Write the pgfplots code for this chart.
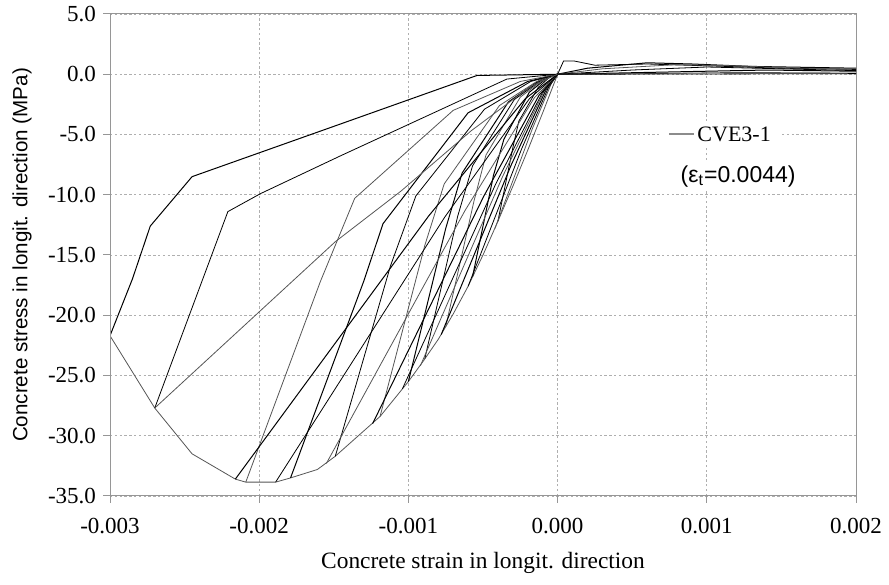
\documentclass[border=0pt]{standalone}
\usepackage{fontspec}
\setmainfont{Liberation Serif}
\newfontfamily\arial{Liberation Sans}
\usepackage{pgfplots}
\pgfplotsset{compat=1.18}
\definecolor{curve}{RGB}{85,85,85}
\definecolor{gridc}{RGB}{175,175,175}
\definecolor{axisc}{RGB}{150,150,150}
\begin{document}
\begin{tikzpicture}
\begin{axis}[
  name=ax,
  scale only axis,
  width=373pt, height=241pt,
  xmin=-0.003, xmax=0.002,
  ymin=-35, ymax=5,
  xtick={-0.003,-0.002,-0.001,0,0.001,0.002},
  ytick={-35,-30,-25,-20,-15,-10,-5,0,5},
  scaled x ticks=false,
  /pgf/number format/assume math mode=true,
  xticklabel style={yshift=-4pt, /pgf/number format/fixed, /pgf/number format/fixed zerofill, /pgf/number format/precision=3},
  yticklabel style={/pgf/number format/fixed, /pgf/number format/fixed zerofill, /pgf/number format/precision=1},
  ticklabel style={font=\fontsize{11.5}{13}\selectfont},
  tick pos=left,
  tick align=outside,
  major tick length=3.5pt,
  tick style={axisc, line width=0.5pt},
  axis line style={axisc, line width=0.5pt},
  grid=major,
  major grid style={gridc, line width=0.4pt, dash pattern=on 1.2pt off 1.2pt},
  clip=true,
  no markers,
  cycle list={{curve, solid, line width=0.5pt}},
]
% envelope
\addplot coordinates {(0,0) (-0.0001,-3.2) (-0.0002,-6.3) (-0.0003,-9.3) (-0.0004,-12.2) (-0.0005,-15.0) (-0.0006,-17.6) (-0.0007,-19.9) (-0.0008,-22.0) (-0.0009,-23.8) (-0.001,-25.5) (-0.00119,-28.4) (-0.00149,-31.7) (-0.00161,-32.8) (-0.00179,-33.5) (-0.00189,-33.85) (-0.00209,-33.85) (-0.00216,-33.6) (-0.00245,-31.5) (-0.0027,-27.7) (-0.003,-21.7)};
% unloading curves
\addplot coordinates {(-0.0004,-12.2) (-0.0003,-6.1) (-0.00026,-3.9) (-0.00013,-1.1) (-0.00005,-0.2) (0,0)};
\addplot coordinates {(-0.00057,-16.8) (-0.00043,-8.4) (-0.00036,-5.4) (-0.00019,-1.5) (-0.00007,-0.3) (0,0)};
\addplot coordinates {(-0.00075,-20.95) (-0.00056,-10.5) (-0.00048,-6.7) (-0.00025,-1.9) (-0.00009,-0.4) (0,0)};
\addplot coordinates {(-0.00089,-23.6) (-0.00067,-11.8) (-0.00057,-7.6) (-0.00029,-2.1) (-0.00011,-0.5) (0,0)};
\addplot coordinates {(-0.001,-25.5) (-0.00075,-12.8) (-0.00064,-8.2) (-0.00033,-2.3) (-0.00012,-0.5) (0,0)};
\addplot coordinates {(-0.00119,-28.4) (-0.00089,-14.2) (-0.00076,-9.1) (-0.00039,-2.6) (-0.00014,-0.6) (0,0)};
\addplot coordinates {(-0.00149,-31.7) (-0.00112,-15.9) (-0.00095,-10.1) (-0.00049,-2.9) (-0.00018,-0.6) (0,0)};
\addplot coordinates {(-0.00179,-33.5) (-0.0013,-17.2) (-0.00117,-12.4) (-0.0006,-3.2) (-0.0002,-0.6) (0,0)};
\addplot coordinates {(-0.00209,-33.85) (-0.00159,-17.2) (-0.00136,-10.3) (-0.0007,-3.0) (-0.00025,-0.6) (0,0)};
\addplot coordinates {(-0.0027,-27.7) (-0.00221,-11.4) (-0.00199,-9.9) (-0.00146,-6.8) (-0.00034,-0.4) (0,0)};
\addplot coordinates {(-0.003,-21.7) (-0.00285,-17.0) (-0.00273,-12.6) (-0.00245,-8.5) (-0.00146,-4.15) (-0.00054,-0.1) (0,0)};
% reloading lines
\addplot coordinates {(0,0) (-0.000042,-0.77) (-0.000168,-4.48) (-0.00042,-12.8)};
\addplot coordinates {(0,0) (-0.00006,-1.06) (-0.00024,-6.16) (-0.0006,-17.6)};
\addplot coordinates {(0,0) (-0.000078,-1.3) (-0.000312,-7.56) (-0.00078,-21.6)};
\addplot coordinates {(0,0) (-0.000092,-1.45) (-0.000368,-8.47) (-0.00092,-24.2)};
\addplot coordinates {(0,0) (-0.000104,-1.57) (-0.000416,-9.14) (-0.00104,-26.1)};
\addplot coordinates {(0,0) (-0.000124,-1.74) (-0.000496,-10.15) (-0.00124,-29.0)};
\addplot coordinates {(0,0) (-0.000155,-1.94) (-0.00062,-11.3) (-0.00155,-32.3)};
\addplot coordinates {(0,0) (-0.000189,-2.03) (-0.000756,-11.85) (-0.00189,-33.85)};
\addplot coordinates {(0,0) (-0.000216,-2.02) (-0.000864,-11.76) (-0.00216,-33.6)};
\addplot coordinates {(0,0) (-0.00018,-1.0) (-0.00058,-4.7) (-0.00105,-9.7) (-0.00149,-13.9) (-0.0027,-27.7)};
% tension branches
\addplot coordinates {(0,0) (0.00004,1.1) (0.00011,1.1) (0.00025,0.75) (0.0006,0.85) (0.001,0.7) (0.0015,0.5) (0.002,0.4)};
\addplot coordinates {(0,0) (0.0002,0.5) (0.0006,0.95) (0.0009,0.85) (0.0013,0.65) (0.002,0.5)};
\addplot coordinates {(0,0) (0.0003,0.45) (0.0008,0.8) (0.0012,0.7) (0.0016,0.5) (0.002,0.45)};
\addplot coordinates {(0,0) (0.0005,0.35) (0.001,0.6) (0.0015,0.45) (0.002,0.3)};
\addplot coordinates {(0,0) (0.0008,0.2) (0.0014,0.35) (0.002,0.25)};
\addplot coordinates {(0,0) (0.0006,0.05) (0.0012,0.15) (0.002,0.1)};
\addplot coordinates {(0,0) (0.002,0.05)};
% thicker left and bottom axis lines
\draw[axisc, line width=1pt] (rel axis cs:0,1) -- (rel axis cs:0,0) -- (rel axis cs:1,0);
% legend
\node[fill=white, inner xsep=5pt, inner ysep=3pt, anchor=west] at (axis cs:0.00068,-5.0)
  {\textcolor{black!45}{\rule[0.33em]{12.5pt}{1pt}}\hspace{1.5pt}\fontsize{11}{13}\selectfont CVE3-1};
\node[fill=white, inner xsep=3pt, inner ysep=2pt] at (axis cs:0.00121,-8.46)
  {\arial\fontsize{11.5}{13}\selectfont (ε\textsubscript{t}=0.0044)};
\end{axis}
\node[rotate=90] at ([xshift=-44pt]ax.west) {\arial\fontsize{10.3}{12}\selectfont Concrete stress in longit. direction (MPa)};
\node at ([yshift=-33.5pt]ax.south) {\fontsize{11.7}{13}\selectfont Concrete strain in longit. direction};
\pgfresetboundingbox
\path[use as bounding box] ([xshift=-55pt,yshift=-44.5pt]ax.south west) rectangle ([xshift=16.5pt,yshift=7pt]ax.north east);
\end{tikzpicture}
\end{document}
